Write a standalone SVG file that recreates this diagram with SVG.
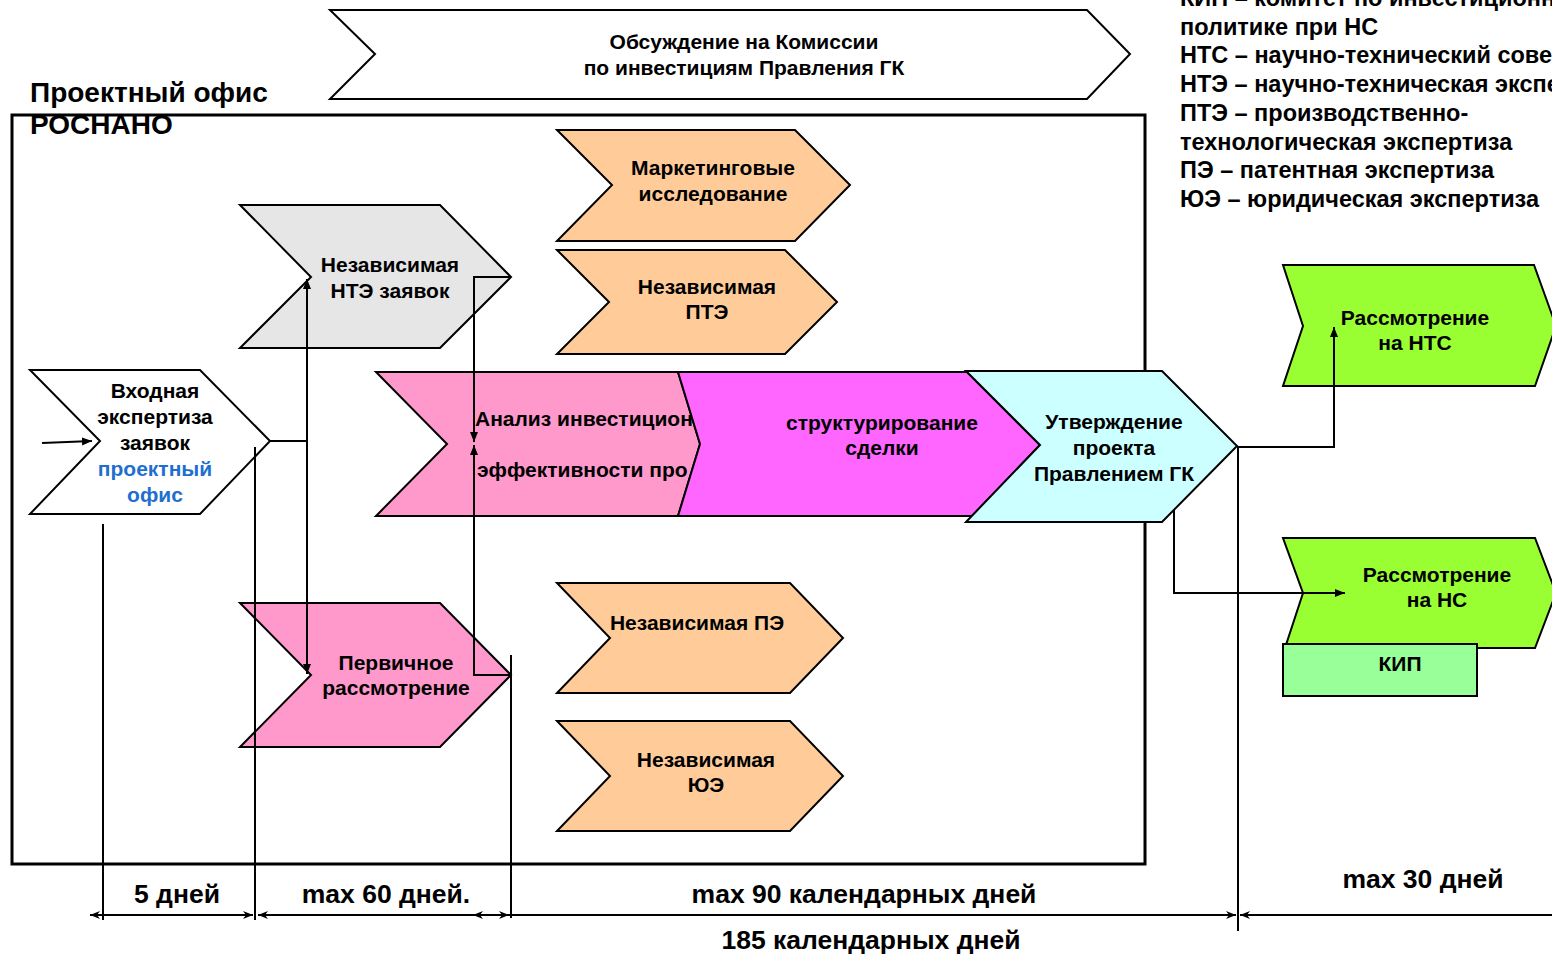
<svg xmlns="http://www.w3.org/2000/svg" width="1552" height="957" viewBox="0 0 1552 957">
<defs>
<style>
text{font-family:"Liberation Sans",Arial,sans-serif;font-weight:bold;fill:#000}
.n{font-size:21px;text-anchor:middle}
.lg{font-size:23.5px}
.dim{font-size:26.5px;text-anchor:middle}
.shape{stroke:#000;stroke-width:2}
.c{fill:none;stroke:#000;stroke-width:2}
.d{fill:none;stroke:#000;stroke-width:2}
</style>
<marker id="ah" viewBox="0 0 10 10" refX="10" refY="5" markerWidth="10" markerHeight="10" markerUnits="userSpaceOnUse" orient="auto-start-reverse"><path d="M0,1 L10,5 L0,9 Z" fill="#000"/></marker>
<marker id="dh" viewBox="0 0 10 10" refX="10" refY="5" markerWidth="12" markerHeight="10" markerUnits="userSpaceOnUse" orient="auto-start-reverse"><path d="M0,1 L10,5 L0,9 L3,5 Z" fill="#000"/></marker>
</defs>
<rect width="1552" height="957" fill="#fff"/>

<g id="frame">
<rect x="12" y="115" width="1133" height="749" fill="none" stroke="#000" stroke-width="3"/>
<text x="30" y="102" font-size="28">Проектный офис</text>
<text x="30" y="134" font-size="28">РОСНАНО</text>
</g>

<g id="legend">
<text class="lg" x="1180" y="6">КИП – комитет по инвестиционной</text>
<text class="lg" x="1180" y="35">политике при НС</text>
<text class="lg" x="1180" y="63">НТС – научно-технический совет</text>
<text class="lg" x="1180" y="92">НТЭ – научно-техническая экспертиза</text>
<text class="lg" x="1180" y="121">ПТЭ – производственно-</text>
<text class="lg" x="1180" y="150">технологическая экспертиза</text>
<text class="lg" x="1180" y="178">ПЭ – патентная экспертиза</text>
<text class="lg" x="1180" y="207">ЮЭ – юридическая экспертиза</text>
</g>

<g id="commission">
<polygon class="shape" points="330,10 1087,10 1130,54 1087,99 330,99 375,54" fill="#fff" stroke-width="1.5"/>
<text class="n" x="744" y="49">Обсуждение на Комиссии</text>
<text class="n" x="744" y="75">по инвестициям Правления ГК</text>
</g>

<g id="vhod">
<polygon class="shape" points="30,370 200,370 270,441 200,514 30,514 100,441" fill="#fff"/>
<text class="n" x="155" y="398">Входная</text>
<text class="n" x="155" y="424">экспертиза</text>
<text class="n" x="155" y="450">заявок</text>
<text class="n" x="155" y="476" style="fill:#1f6fcf">проектный</text>
<text class="n" x="155" y="502" style="fill:#1f6fcf">офис</text>
</g>

<g id="nte">
<polygon class="shape" points="240,205 440,205 511,277 440,348 240,348 311,277" fill="#e6e6e6"/>
<text class="n" x="390" y="272">Независимая</text>
<text class="n" x="390" y="298">НТЭ заявок</text>
</g>

<g id="pervichnoe">
<polygon class="shape" points="240,603 440,603 511,675 440,747 240,747 311,675" fill="#ff99cc"/>
<text class="n" x="396" y="670">Первичное</text>
<text class="n" x="396" y="695">рассмотрение</text>
</g>

<g id="marketing">
<polygon class="shape" points="557,130 795,130 850,185 795,241 557,241 612,185" fill="#ffcc99"/>
<text class="n" x="713" y="175">Маркетинговые</text>
<text class="n" x="713" y="201">исследование</text>
</g>

<g id="pte">
<polygon class="shape" points="557,250 785,250 837,302 785,354 557,354 609,302" fill="#ffcc99"/>
<text class="n" x="707" y="294">Независимая</text>
<text class="n" x="707" y="319">ПТЭ</text>
</g>

<g id="pe">
<polygon class="shape" points="557,583 790,583 843,638 790,693 557,693 610,638" fill="#ffcc99"/>
<text class="n" x="697" y="630">Независимая ПЭ</text>
</g>

<g id="yue">
<polygon class="shape" points="557,721 790,721 843,776 790,831 557,831 610,776" fill="#ffcc99"/>
<text class="n" x="706" y="767">Независимая</text>
<text class="n" x="706" y="792">ЮЭ</text>
</g>

<g id="analiz">
<polygon class="shape" points="376,372 678,372 700,444 678,516 376,516 447,444" fill="#ff99cc"/>
<text x="475" y="426" font-size="21">Анализ инвестицион</text>
<text x="477" y="477" font-size="21">эффективности про</text>
</g>

<g id="struktur">
<polygon class="shape" points="678,372 967,372 1040,445 972,516 678,516 700,444" fill="#ff66ff"/>
<text class="n" x="882" y="430">структурирование</text>
<text class="n" x="882" y="455">сделки</text>
</g>

<g id="utverzhdenie">
<polygon class="shape" points="966,371 1162,371 1237,446 1162,522 966,522 1040,445" fill="#ccffff"/>
<text class="n" x="1114" y="429">Утверждение</text>
<text class="n" x="1114" y="455">проекта</text>
<text class="n" x="1114" y="481">Правлением ГК</text>
</g>

<g id="nts">
<polygon class="shape" points="1283,265 1534,265 1556,326 1535,386 1283,386 1303,326" fill="#99ff33"/>
<text class="n" x="1415" y="325">Рассмотрение</text>
<text class="n" x="1415" y="350">на НТС</text>
</g>

<g id="ns">
<polygon class="shape" points="1283,538 1535,538 1556,593 1535,648 1285,648 1303,593" fill="#99ff33"/>
<text class="n" x="1437" y="582">Рассмотрение</text>
<text class="n" x="1437" y="607">на НС</text>
</g>

<g id="kip">
<rect class="shape" x="1283" y="644" width="194" height="52" fill="#99ff99"/>
<text class="n" x="1400" y="671">КИП</text>
</g>

<g id="connectors">
<line class="c" x1="42" y1="443" x2="92" y2="441" marker-end="url(#ah)"/>
<line class="c" x1="270" y1="441" x2="307" y2="441"/>
<line class="c" x1="307" y1="279" x2="307" y2="674" marker-start="url(#ah)" marker-end="url(#ah)"/>
<polyline class="c" points="511,277 474,277 474,442" marker-end="url(#ah)"/>
<polyline class="c" points="511,675 474,675 474,445" marker-end="url(#ah)"/>
<polyline class="c" points="1237,447 1334,447 1334,327" marker-end="url(#ah)"/>
<polyline class="c" points="1174,510 1174,593 1345,593" marker-end="url(#ah)"/>
</g>

<g id="dimensions">
<line class="d" x1="103" y1="524" x2="103" y2="920"/>
<line class="d" x1="255" y1="447" x2="255" y2="920"/>
<line class="d" x1="511" y1="655" x2="511" y2="918"/>
<line class="d" x1="1238" y1="447" x2="1238" y2="931"/>
<line class="d" x1="90" y1="915" x2="253" y2="915" marker-start="url(#dh)" marker-end="url(#dh)"/>
<line class="d" x1="258" y1="915" x2="509" y2="915" marker-start="url(#dh)" marker-end="url(#dh)"/>
<line class="d" x1="473" y1="915" x2="1236" y2="915" marker-start="url(#dh)" marker-end="url(#dh)"/>
<line class="d" x1="1240" y1="915" x2="1560" y2="915" marker-start="url(#dh)"/>
<text class="dim" x="177" y="903">5 дней</text>
<text class="dim" x="386" y="903">max 60 дней.</text>
<text class="dim" x="864" y="903">max 90 календарных дней</text>
<text class="dim" x="871" y="949">185 календарных дней</text>
<text class="dim" x="1423" y="888">max 30 дней</text>
</g>
</svg>
